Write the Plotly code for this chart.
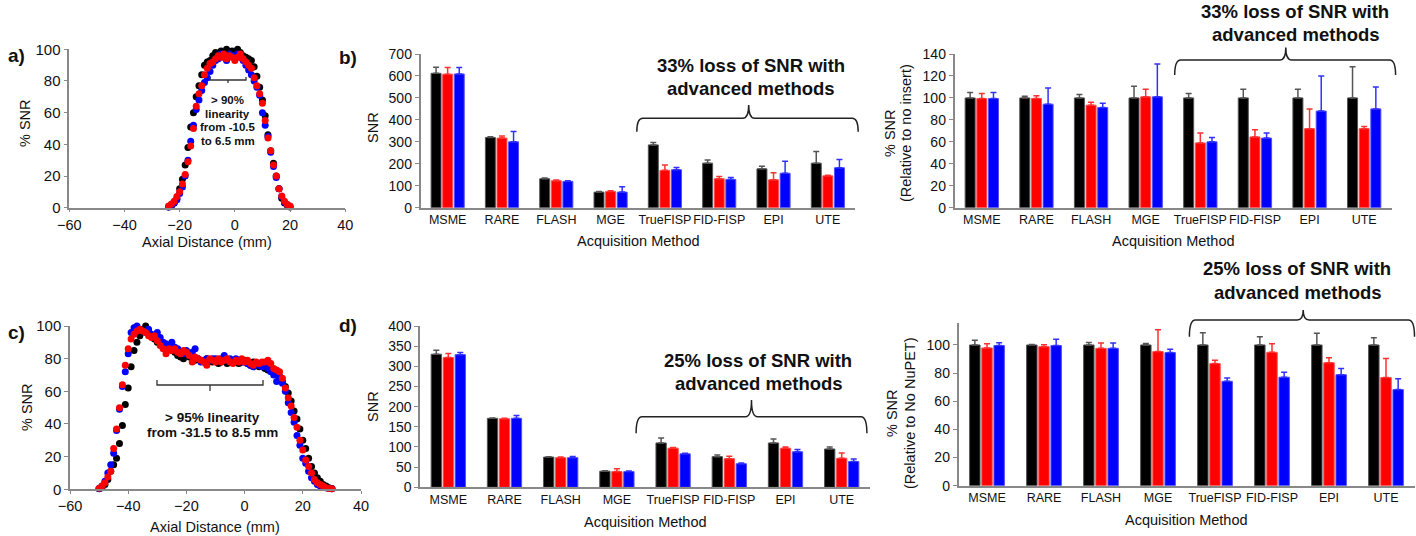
import plotly.graph_objects as go

W, H = 1416, 536
FONT = "Liberation Sans, Arial, sans-serif"

# ---- profile data (panels a and c) ----
dist_a = list(range(-24, 21))
snr_a_black = [0.5, 1, 3, 6, 12, 18, 27, 38, 51, 60, 70, 77, 84, 90, 92, 93, 96, 98, 97, 99, 97, 100, 98,
               99, 97, 100, 98, 96, 95, 94, 93, 89, 83, 76, 68, 58, 46, 36, 28, 20, 12, 6, 3, 1.5, 0.5]
snr_a_red = [1, 2.3, 4, 7, 10, 15, 21, 29, 39, 50, 64, 72, 77, 84, 88, 91, 92, 94, 96, 95, 97, 94, 96,
             95, 93, 95, 97, 94, 92, 90, 88, 82, 77, 72, 66, 55, 44, 36, 27, 20, 12, 7.4, 4, 2, 1]
snr_a_blue = [0.5, 1.5, 3, 5, 9, 13, 20, 30, 42, 52, 62, 68, 74, 79, 82, 86, 90, 93, 94, 97, 95, 93, 97,
              96, 94, 97, 95, 93, 90, 87, 84, 80, 76, 71, 60, 52, 45, 35, 26, 19, 12, 7, 3.5, 2, 0.8]

dist_c = list(range(-50, 31))
snr_c_black = [0.3, 1, 3, 6, 11, 15, 19, 28, 39, 52, 62, 75, 85, 90, 94, 98, 100, 97, 94, 92, 90, 90, 88,
               89, 86, 85, 84, 82, 81, 80, 82, 81, 80, 79, 80, 79, 78, 80, 79, 78, 79, 77, 78, 79, 77,
               79, 78, 79, 77, 78, 79, 77, 76, 78, 77, 75, 76, 74, 73, 73, 72, 71, 69, 66, 63, 59, 54,
               48, 43, 37, 30, 25, 19, 14, 10, 7, 5, 3, 2, 1, 0.5]
snr_c_red = [0.6, 2, 4, 7.5, 11, 25, 37, 50, 64, 76, 86, 92, 95, 97, 98, 97, 96, 94, 93, 94, 91, 88, 86,
             83, 86, 85, 86, 84, 83, 85, 84, 82, 78, 81, 80, 79, 78, 76, 80, 79, 78, 80, 78, 79, 80,
             78, 77, 79, 78, 80, 78, 79, 77, 76, 78, 77, 78, 78, 79, 77, 74, 73, 72, 68, 62, 56, 51,
             44, 38, 30, 24, 18, 14, 10, 6, 4, 3, 2, 1, 0.5, 0.3]
snr_c_blue = [0.5, 2, 5, 10, 15, 22, 36, 49, 63, 72, 83, 96, 99, 100, 98, 97, 96, 98, 95, 94, 96, 93, 90,
              89, 88, 90, 87, 86, 84, 83, 85, 82, 84, 86, 80, 78, 79, 80, 79, 80, 80, 79, 80, 82, 79,
              80, 78, 80, 79, 78, 78, 77, 76, 75, 77, 76, 75, 77, 74, 72, 70, 66, 69, 65, 60, 53, 47,
              41, 33, 27, 19, 16, 11, 7, 5, 3, 2, 1.5, 1, 0.5, 0.3]

# ---- bar data ----
methods = ["MSME", "RARE", "FLASH", "MGE", "TrueFISP", "FID-FISP", "EPI", "UTE"]

snr_b_black = [612, 320, 132, 71, 286, 203, 177, 203]
snr_b_black_err = [28, 3, 3, 3, 11, 14, 12, 53]
snr_b_red = [608, 317, 123, 74, 170, 132, 127, 145]
snr_b_red_err = [30, 9, 3, 3, 24, 10, 32, 3]
snr_b_blue = [609, 300, 120, 71, 173, 129, 157, 182]
snr_b_blue_err = [30, 47, 3, 24, 10, 9, 55, 38]

pct_b_black = [100, 100, 100, 100, 100, 100, 100, 100]
pct_b_black_err = [5, 1.5, 3, 10.6, 4, 8, 8, 28.5]
pct_b_red = [99.4, 99.5, 93.4, 101, 59, 64.5, 72, 72]
pct_b_red_err = [4.6, 2.5, 2.7, 7, 9, 6.5, 18, 2]
pct_b_blue = [99.4, 94.3, 91.2, 101, 60, 63.4, 88, 90]
pct_b_blue_err = [5.6, 14.7, 4, 30, 4, 4.6, 32, 20]

snr_d_black = [330, 171, 75, 40, 110, 76, 110, 95]
snr_d_black_err = [10, 1, 1, 1, 12, 4, 10, 5]
snr_d_red = [322, 170, 73.5, 39, 97, 71, 97, 72]
snr_d_red_err = [10, 1.5, 1.5, 7, 1.5, 6, 3, 13]
snr_d_blue = [329, 171, 73.5, 39, 83, 58.5, 88, 64]
snr_d_blue_err = [5, 7, 3, 1.5, 1.5, 2, 6, 6]

pct_d_black = [100, 100, 100, 100, 100, 100, 100, 100]
pct_d_black_err = [3.3, 0.3, 1.7, 1, 8.7, 5.9, 8.3, 5.2]
pct_d_red = [97.9, 98.8, 97.6, 95.3, 86.8, 94.8, 87.4, 76.8]
pct_d_red_err = [3, 1.4, 3.8, 15.6, 2.3, 6.1, 3.6, 13.5]
pct_d_blue = [99.6, 99.6, 97.6, 94.6, 74.2, 77.1, 78.9, 68.3]
pct_d_blue_err = [1.9, 4.4, 3.8, 2.4, 2.4, 3.5, 4.3, 7.7]

COLS = {"black": ("#000000", "#555555", "#555555"),
        "red": ("#ff0000", "#ff5050", "#ff3030"),
        "blue": ("#0000ff", "#5050ff", "#3030ff")}


def px(x):
    return x / W


def py(y):
    return 1 - y / H


fig = go.Figure()


def add_profile(x, series, xa, ya):
    for name, vals in series:
        fig.add_trace(go.Scatter(x=x, y=vals, mode="markers", xaxis=xa, yaxis=ya,
                                 marker=dict(size=7, color=COLS[name][0]),
                                 cliponaxis=False, showlegend=False))


def add_bars(series, xa, ya):
    for name, vals, err in series:
        c, edge, ecol = COLS[name]
        fig.add_trace(go.Bar(x=methods, y=vals, xaxis=xa, yaxis=ya, showlegend=False,
                             marker=dict(color=c, line=dict(color=edge, width=1)),
                             error_y=dict(type="data", array=err, arrayminus=[0] * len(err),
                                          symmetric=False, color=ecol, thickness=1.5, width=3)))


add_profile(dist_a, [("black", snr_a_black), ("blue", snr_a_blue), ("red", snr_a_red)], "x", "y")
add_profile(dist_c, [("black", snr_c_black), ("blue", snr_c_blue), ("red", snr_c_red)], "x4", "y4")
add_bars([("black", snr_b_black, snr_b_black_err), ("red", snr_b_red, snr_b_red_err),
          ("blue", snr_b_blue, snr_b_blue_err)], "x2", "y2")
add_bars([("black", pct_b_black, pct_b_black_err), ("red", pct_b_red, pct_b_red_err),
          ("blue", pct_b_blue, pct_b_blue_err)], "x3", "y3")
add_bars([("black", snr_d_black, snr_d_black_err), ("red", snr_d_red, snr_d_red_err),
          ("blue", snr_d_blue, snr_d_blue_err)], "x5", "y5")
add_bars([("black", pct_d_black, pct_d_black_err), ("red", pct_d_red, pct_d_red_err),
          ("blue", pct_d_blue, pct_d_blue_err)], "x6", "y6")

axis_common = dict(showline=True, linecolor="#888888", linewidth=1.5, showgrid=False,
                   zeroline=False, ticks="outside", tickcolor="#888888", ticklen=4,
                   automargin=False, tickfont=dict(family=FONT, size=14, color="#111111"))


def lin_x(dom, anchor):
    return dict(axis_common, domain=dom, anchor=anchor, range=[-60, 40], tickvals=[-60, -40, -20, 0, 20, 40],
                ticklen=3, tickfont=dict(family=FONT, size=14.5, color="#111111"))


def lin_y(dom, anchor, rng, dtick, size=14):
    return dict(axis_common, domain=dom, anchor=anchor, range=rng, dtick=dtick,
                tickfont=dict(family=FONT, size=size, color="#111111"))


def cat_x(dom, anchor):
    return dict(axis_common, domain=dom, anchor=anchor, type="category", ticks="", tickangle=0,
                tickfont=dict(family=FONT, size=12.5, color="#111111"))


fig.update_layout(
    width=W, height=H, margin=dict(l=0, r=0, t=0, b=0, pad=0, autoexpand=False),
    paper_bgcolor="white", plot_bgcolor="white", showlegend=False,
    barmode="group", bargap=0.36, bargroupgap=0.14,
    xaxis=lin_x([px(69.3), px(345.2)], "y"),
    yaxis=lin_y([py(207.7), py(49.3)], "x", [0, 100], 20, 15),
    xaxis4=lin_x([px(70), px(361)], "y4"),
    yaxis4=lin_y([py(489.3), py(326)], "x4", [0, 100], 20, 15),
    xaxis2=cat_x([px(420.5), px(855)], "y2"),
    yaxis2=lin_y([py(207.7), py(54)], "x2", [0, 700], 100),
    xaxis3=cat_x([px(954.5), px(1391.5)], "y3"),
    yaxis3=lin_y([py(207.7), py(54)], "x3", [0, 140], 20),
    xaxis5=cat_x([px(420.2), px(869.8)], "y5"),
    yaxis5=lin_y([py(487.3), py(326)], "x5", [0, 400], 50),
    xaxis6=cat_x([px(958.5), px(1414.5)], "y6"),
    yaxis6=dict(lin_y([py(485.7), py(323.3)], "x6", [0, 115.4], 20), tickvals=[0, 20, 40, 60, 80, 100]),
)


def label(text, x, y, size=14.5, bold=False, angle=0):
    t = f"<b>{text}</b>" if bold else text
    fig.add_annotation(text=t, x=px(x), y=py(y), xref="paper", yref="paper", showarrow=False,
                       xanchor="center", yanchor="middle", textangle=angle,
                       font=dict(family=FONT, size=size, color="#111111"))


# panel letters
label("a)", 16, 55, 19, True)
label("b)", 348, 57, 19, True)
label("c)", 16, 332, 19, True)
label("d)", 348, 325, 19, True)

# axis titles
label("% SNR", 25, 123, angle=-90)
label("Axial Distance (mm)", 207, 242)
label("% SNR", 27, 407, angle=-90)
label("Axial Distance (mm)", 215, 527)
label("SNR", 373, 128, angle=-90)
label("Acquisition Method", 638, 241)
label("SNR", 373, 407, angle=-90)
label("Acquisition Method", 645, 522)
label("% SNR", 890, 133, angle=-90)
label("(Relative to no insert)", 906, 133, angle=-90)
label("Acquisition Method", 1173, 241)
label("% SNR", 892, 413, angle=-90)
label("(Relative to No NuPET)", 910, 413, angle=-90)
label("Acquisition Method", 1186, 520)

# linearity notes
for i, t in enumerate(["&gt; 90%", "linearity", "from -10.5", "to 6.5 mm"]):
    label(t, 228, 100 + i * 13.7, 11.5, True)
label("&gt; 95% linearity", 213, 417, 13.5, True)
label("from -31.5 to 8.5 mm", 213, 432, 13.5, True)

# brace captions
label("33% loss of SNR with", 751, 66, 18.5, True)
label("advanced methods", 751, 88, 18.5, True)
label("33% loss of SNR with", 1295, 12, 18.5, True)
label("advanced methods", 1296, 34, 18.5, True)
label("25% loss of SNR with", 758, 360, 18.5, True)
label("advanced methods", 759, 383, 18.5, True)
label("25% loss of SNR with", 1297, 268, 18.5, True)
label("advanced methods", 1298, 292, 18.5, True)


def brace(xl, xr, xm, y_end, y_h, y_peak, r=6):
    pts = [("M", xl, y_end), ("Q", xl, y_h), ("", xl + r, y_h), ("L", xm - r, y_h),
           ("Q", xm, y_h), ("", xm, y_peak), ("Q", xm, y_h), ("", xm + r, y_h),
           ("L", xr - r, y_h), ("Q", xr, y_h), ("", xr, y_end)]
    path = " ".join(f"{c} {px(x):.5f},{py(y):.5f}".strip() for c, x, y in pts)
    fig.add_shape(type="path", path=path, xref="paper", yref="paper",
                  line=dict(color="#222222", width=1.5))


brace(636.8, 858.2, 748.7, 131.7, 118.3, 105)
brace(1174.7, 1395.6, 1285.8, 75, 60, 47.5)
brace(636.1, 866.9, 751.5, 433.3, 416.7, 400)
brace(1189.4, 1414.5, 1303.2, 336.7, 320, 310)


def bracket(xl, xr, y, up, down):
    xm = (xl + xr) / 2
    path = (f"M {px(xl):.5f},{py(y - up):.5f} L {px(xl):.5f},{py(y):.5f} L {px(xr):.5f},{py(y):.5f} "
            f"L {px(xr):.5f},{py(y - up):.5f} M {px(xm):.5f},{py(y):.5f} L {px(xm):.5f},{py(y + down):.5f}")
    fig.add_shape(type="path", path=path, xref="paper", yref="paper",
                  line=dict(color="#333333", width=1.3))


bracket(210, 246, 80, 3, 3)
bracket(157, 263, 385, 5, 6)

fig.write_html("out.html", config={"displayModeBar": False},
               post_script="document.body.style.margin='0';document.body.style.overflow='hidden';")
